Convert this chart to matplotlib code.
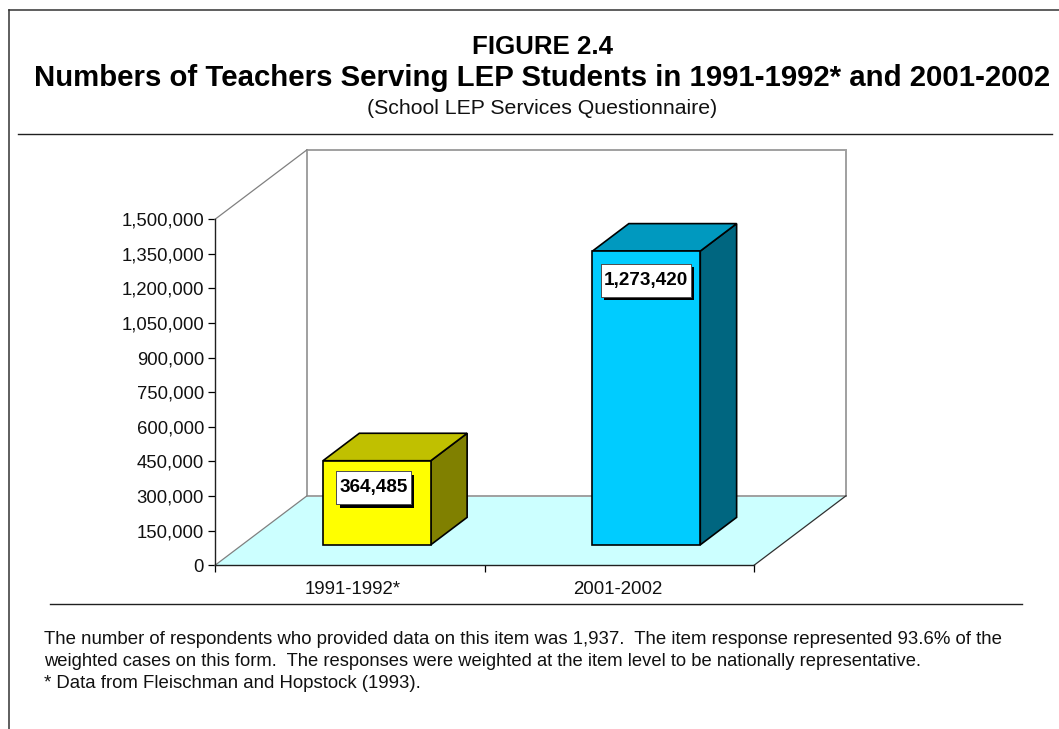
#! /usr/bin/env python

import matplotlib
matplotlib.use('Agg')
import matplotlib.pyplot as plt
import matplotlib.patheffects as pe
from matplotlib.lines import Line2D
from matplotlib.patches import Polygon
from matplotlib.path import Path
from matplotlib.ticker import FuncFormatter

plt.rcParams['font.family'] = ['Liberation Sans', 'DejaVu Sans']

categories = ['1991-1992*', '2001-2002']
teachers = [364485, 1273420]
value_labels = ['364,485', '1,273,420']
front_colors = ['#FFFF00', '#00CCFF']
top_colors = ['#C0C000', '#0099BF']
side_colors = ['#808000', '#006680']
y_max = 1500000
y_step = 150000

title_lines = ['FIGURE 2.4',
               'Numbers of Teachers Serving LEP Students in 1991-1992* and 2001-2002']
subtitle = '(School LEP Services Questionnaire)'
notes = ['The number of respondents who provided data on this item was 1,937.  The item response represented 93.6% of the',
         'weighted cases on this form.  The responses were weighted at the item level to be nationally representative.',
         '* Data from Fleischman and Hopstock (1993).']

W, H = 1059.0, 729.0
fig = plt.figure(figsize=(W / 100, H / 100), dpi=100)
ax = fig.add_axes([215 / W, (H - 565.3) / H, 539 / W, 346 / H])
ax.set_xlim(0, len(categories))
ax.set_ylim(0, y_max)

# fake 3d: depth 0..1 runs from the front of the floor to the back wall
depth_x = 92 / 269.5
depth_y = 69.5 / 346 * y_max

def proj(x, y, d):
    return (x + d * depth_x, y + d * depth_y)

def face(points, **kw):
    ax.add_patch(Polygon([proj(*p) for p in points], closed=True, clip_on=False, **kw))

# label box is wider in y than in x, so no plain square boxstyle
def label_box(x0, y0, w, h, mutation_size):
    xa, xb = x0 - 3, x0 + w + 3
    ya, yb = y0 - 8, y0 + h + 8
    return Path([(xa, ya), (xb, ya), (xb, yb), (xa, yb), (xa, ya)], closed=True)

wall = '#A0A0A0'
n = len(categories)
face([(0, 0, 0), (n, 0, 0), (n, 0, 1), (0, 0, 1)], fc='#CCFFFF', ec='none', zorder=1)
face([(0, 0, 1), (n, 0, 1), (n, y_max, 1), (0, y_max, 1)], fc='white', ec=wall, lw=1.4, zorder=1)
for a, b, col in [((0, 0, 0), (0, 0, 1), '#808080'),
                  ((0, y_max, 0), (0, y_max, 1), '#808080'),
                  ((n, 0, 0), (n, 0, 1), '#303030')]:
    pa, pb = proj(*a), proj(*b)
    ax.plot([pa[0], pb[0]], [pa[1], pb[1]], color=col, lw=0.9, clip_on=False, zorder=2)

bar_w = 0.4
d0, d1 = 0.295, 0.69
label_shift = [(-3.5, -27), (-0.5, -29.5)]
for i, val in enumerate(teachers):
    x0 = i + 0.5 - bar_w / 2
    x1 = i + 0.5 + bar_w / 2
    style = dict(ec='black', lw=1.2, joinstyle='miter', zorder=3)
    face([(x1, 0, d0), (x1, 0, d1), (x1, val, d1), (x1, val, d0)], fc=side_colors[i], **style)
    face([(x0, val, d0), (x1, val, d0), (x1, val, d1), (x0, val, d1)], fc=top_colors[i], **style)
    face([(x0, 0, d0), (x1, 0, d0), (x1, val, d0), (x0, val, d0)], fc=front_colors[i], **style)

    px, py = proj(i + 0.5, val, d0)
    t = ax.annotate(value_labels[i], (px, py), xytext=label_shift[i], textcoords='offset pixels',
                    ha='center', va='center', fontsize=13.6, fontweight='bold', color='black',
                    zorder=5, annotation_clip=False,
                    bbox=dict(boxstyle=label_box, fc='white', ec='#404040', lw=0.6))
    t.get_bbox_patch().set_path_effects([
        pe.withSimplePatchShadow(offset=(2.4, -2.4), shadow_rgbFace='black', alpha=1.0),
        pe.Normal()])

for s in ['top', 'right']:
    ax.spines[s].set_visible(False)
for s in ['left', 'bottom']:
    ax.spines[s].set_color('#202020')
    ax.spines[s].set_linewidth(1.0)
    ax.spines[s].set_zorder(4)
ax.patch.set_visible(False)

ax.set_yticks(range(0, y_max + 1, y_step))
ax.yaxis.set_major_formatter(FuncFormatter(lambda v, p: format(int(v), ',')))
ax.tick_params(axis='y', length=5, width=0.9, pad=3, labelsize=13.3, labelcolor='#111111')
ax.set_xticks(range(n + 1))
ax.set_xticklabels([])
ax.set_xticks([0.51, 1.495], categories, minor=True)
ax.tick_params(axis='x', which='major', length=5, width=0.9)
ax.tick_params(axis='x', which='minor', length=0, pad=11, labelsize=13.4, labelcolor='#111111')

# page furniture, in figure pixels
def fline(xs, ys, lw=1.0, color='#202020'):
    fig.add_artist(Line2D([x / W for x in xs], [1 - y / H for y in ys], color=color, lw=lw))

fline([9, 9], [10, 729], lw=1.1, color='#333333')
fline([9, 1059], [10, 10], lw=1.1, color='#333333')
fline([18, 1052], [134, 134], lw=1.0)
fline([50, 1022], [603.5, 603.5], lw=1.0)

def ftext(x, y, s, **kw):
    fig.text(x / W, 1 - y / H, s, va='center', **kw)

ftext(543, 46.5, title_lines[0], ha='center', fontsize=18.6, fontweight='bold', color='black')
ftext(542.5, 78, title_lines[1], ha='center', fontsize=21.15, fontweight='bold', color='black')
ftext(542.5, 109, subtitle, ha='center', fontsize=15.3, color='#111111')
for y, line, size in zip([639.5, 661.5, 683.5], notes, [13.45, 13.25, 13.45]):
    ftext(44, y, line, ha='left', fontsize=size, color='#111111')

fig.savefig('out.png', dpi=100)
